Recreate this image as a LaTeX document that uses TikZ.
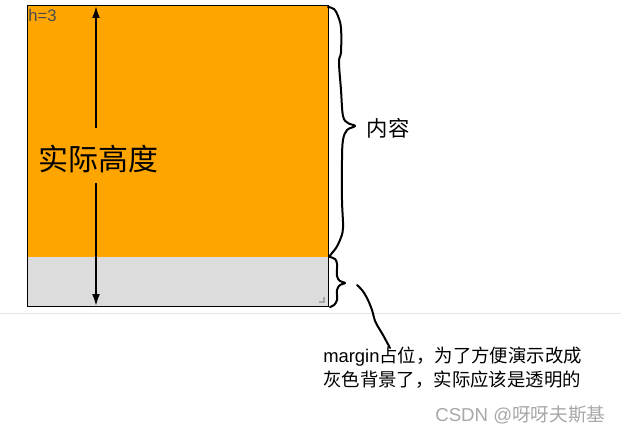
\documentclass[tikz,border=0pt]{standalone}
\usepackage{fontspec}
\setmainfont{Liberation Sans}
\newfontfamily\cjk{Noto Sans CJK SC}
\usetikzlibrary{arrows.meta}
\definecolor{boxorange}{HTML}{FFA500}
\definecolor{margingrey}{HTML}{DCDCDC}
\definecolor{ruleline}{HTML}{E6E6E6}
\definecolor{marktext}{HTML}{A8A8A8}

\begin{document}
\begin{tikzpicture}[x=0.75pt,y=-0.75pt,
	hand/.style={line width=1.5pt, line cap=round, line join=round},
	dimarrow/.style={line width=1.5pt, -{Latex[length=9pt,width=6pt]}},
	lbl/.style={inner sep=0pt, anchor=center}]
		%%%%% START %%%%%
		\useasboundingbox (0,0) rectangle (621,435);
		\fill[white] (0,0) rectangle (621,435);
		
		\draw[ruleline, line width=0.75pt] (0,313.5) -- (621,313.5);
		
		\fill[boxorange] (27,6) rectangle (328,257);
		\fill[margingrey] (27,257) rectangle (328,306);
		\draw[line width=0.75pt] (27,6) rectangle (328,306);
		\fill[black!35] (323,297) rectangle (325,303);
		\fill[black!35] (319,301) rectangle (325,303);
		
		\node[anchor=north west, inner sep=0pt, text=black!70, font=\fontsize{12.5}{14}\selectfont] (hval) at (28,9) {h=3};
		
		\node[lbl, font=\cjk\fontsize{22.5}{27}\selectfont] (height) at (98,159) {实际高度};
		\coordinate (boxtop) at (96,6);
		\coordinate (boxbot) at (96,306);
		\coordinate (gaptop) at (96,128);
		\coordinate (gapbot) at (96,183);
		\draw[dimarrow] (gaptop) -- (boxtop);
		\draw[dimarrow] (gapbot) -- (boxbot);
		
		\coordinate (tipa) at (355,126);
		\coordinate (tipb) at (345,283);
		\draw[hand] plot[smooth, tension=0.6] coordinates {(328,7) (334,9) (338,16) (341,28) (341,52) (339,62) (341,90) (343,116) (348,123) (tipa) (347,130) (343,140) (342,160) (342,200) (343,228) (340,240) (336,248) (332,253) (329,257)};
		\draw[hand] plot[smooth, tension=0.6] coordinates {(330,257) (335,259) (337,264) (337,276) (340,281) (tipb) (340,285) (337,290) (337,300) (334,305) (330,307)};
		
		\node[lbl, font=\cjk\fontsize{16}{19}\selectfont] (content) at (388,128) {内容};
		
		\node[anchor=north west, inner sep=0pt, align=left, font=\fontsize{13.8}{17.6}\selectfont] (note) at (323,347) {margin{\cjk 占位，为了方便演示改成}\\{\cjk 灰色背景了，实际应该是透明的}};
		\coordinate (curvestart) at (357,285);
		\coordinate (curveend) at (390,348);
		\draw[hand] plot[smooth, tension=0.6] coordinates {(curvestart) (362,290) (367,298) (372,310) (375,321) (380,330) (383,335) (curveend)};
		
		\node[anchor=west, inner sep=0pt, text=marktext, font=\fontsize{14}{16}\selectfont] (mark) at (435,415) {CSDN @{\cjk 呀呀夫斯基}};
		%%%%% END %%%%%
	\end{tikzpicture}
\end{document}
